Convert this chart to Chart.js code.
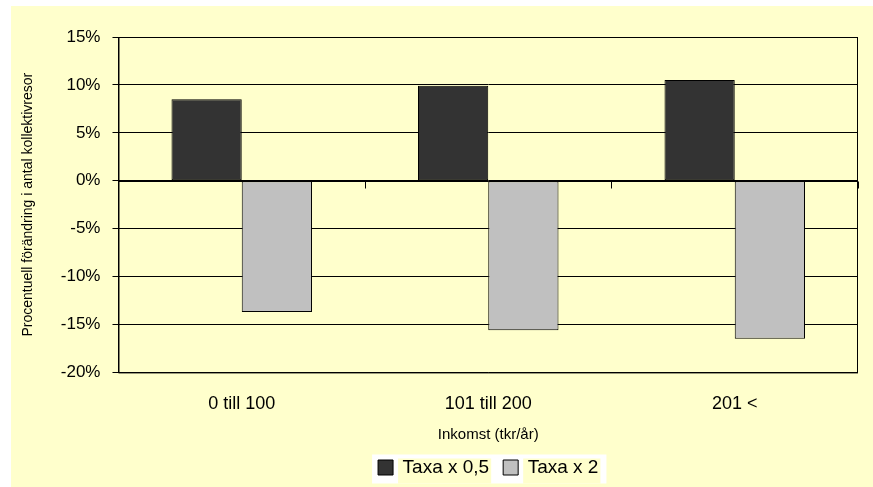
<!DOCTYPE html>
<html>
<head>
<meta charset="utf-8">
<script src="https://cdn.jsdelivr.net/npm/chart.js@4"></script>
<style>
  html, body { margin: 0; padding: 0; background: #fff; }
  #wrap { width: 873px; height: 487px; }
</style>
</head>
<body>
<div id="wrap"><canvas id="incomeChart" width="873" height="487"></canvas></div>
<script>
const categories = ['0 till 100', '101 till 200', '201 <'];
const halfFare = [8.5, 9.9, 10.5];        // Taxa x 0,5
const doubleFare = [-13.7, -15.6, -16.5]; // Taxa x 2
const yTicks = [15, 10, 5, 0, -5, -10, -15, -20];

const FONT = 'Arial, "Liberation Sans", sans-serif';
const YELLOW = '#FFFFCC';

// center the legend under the plot area instead of the whole canvas
const legendShift = {
  id: 'legendShift',
  afterLayout(chart) {
    const lg = chart.legend, a = chart.chartArea;
    if (!lg) return;
    const dx = (a.left + a.right) / 2 - (lg.left + lg.right) / 2;
    lg.left += dx;
    lg.right += dx;
    (lg.legendHitBoxes || []).forEach(b => { b.left += dx; });
  }
};

// yellow chart background with white margin at top/left, white-ish legend box
const bgPlugin = {
  id: 'bg',
  beforeDraw(chart) {
    const ctx = chart.ctx;
    ctx.save();
    ctx.fillStyle = '#ffffff';
    ctx.fillRect(0, 0, chart.width, chart.height);
    ctx.fillStyle = YELLOW;
    ctx.fillRect(11, 6, chart.width - 11, chart.height - 6);
    const lg = chart.legend;
    if (lg && lg.legendHitBoxes && lg.legendHitBoxes.length) {
      const boxes = lg.legendHitBoxes;
      const first = boxes[0], last = boxes[boxes.length - 1];
      const cy = first.top + first.height / 2;
      const x0 = first.left - 6, x1 = last.left + last.width + 8;
      ctx.fillStyle = '#ffffff';
      ctx.fillRect(x0, cy - 13, x1 - x0, 29);
      // Excel leaves the area behind the label text yellow
      ctx.fillStyle = YELLOW;
      boxes.forEach(b => {
        const tx = b.left + 15 + 5;
        ctx.fillRect(tx, cy - 9, b.left + b.width - tx + 2, 25);
      });
    }
    ctx.restore();
  }
};

// plot frame + tick marks on the zero line
const framePlugin = {
  id: 'frame',
  afterDatasetsDraw(chart) {
    const { ctx, chartArea: a, scales } = chart;
    ctx.save();
    ctx.strokeStyle = '#000';
    ctx.lineWidth = 1;
    ctx.strokeRect(a.left + 0.5, a.top + 0.5, a.right - a.left - 1, a.bottom - a.top);
    const y0 = Math.round(scales.y.getPixelForValue(0)) + 0.5;
    ctx.beginPath();
    ctx.moveTo(a.left, y0);
    ctx.lineTo(a.right, y0);
    for (let i = 0; i <= categories.length; i++) {
      const x = Math.round(scales.x.getPixelForValue(i - 0.5)) + 0.5;
      ctx.moveTo(x, y0);
      ctx.lineTo(x, y0 + 7);
    }
    ctx.stroke();
    ctx.restore();
  }
};

new Chart(document.getElementById('incomeChart'), {
  type: 'bar',
  data: {
    labels: categories,
    datasets: [
      {
        label: 'Taxa x 0,5',
        data: halfFare,
        backgroundColor: '#333333',
        borderColor: '#000000',
        borderWidth: 1,
        borderSkipped: false
      },
      {
        label: 'Taxa x 2',
        data: doubleFare,
        backgroundColor: '#C0C0C0',
        borderColor: '#000000',
        borderWidth: 1,
        borderSkipped: false
      }
    ]
  },
  options: {
    responsive: false,
    animation: false,
    devicePixelRatio: 1,
    categoryPercentage: 0.57,
    barPercentage: 1,
    layout: { padding: { left: 20, right: 15, top: 37, bottom: 0 } },
    plugins: {
      legend: {
        position: 'bottom',
        labels: {
          font: { family: FONT, size: 19 },
          color: '#000',
          boxWidth: 15,
          boxHeight: 15,
          padding: 14
        }
      },
      tooltip: { enabled: false }
    },
    scales: {
      x: {
        grid: { display: false },
        border: { display: false },
        ticks: { font: { family: FONT, size: 18 }, color: '#000', padding: 13 },
        title: {
          display: true,
          text: 'Inkomst (tkr/år)',
          font: { family: FONT, size: 15, lineHeight: 1 },
          color: '#000',
          padding: { top: -1, bottom: 2 }
        }
      },
      y: {
        min: -20,
        max: 15,
        afterBuildTicks(scale) {
          scale.ticks = yTicks.map(v => ({ value: v }));
        },
        grid: { color: '#000', lineWidth: 1, tickLength: 6 },
        border: { display: true, color: '#000' },
        ticks: {
          font: { family: FONT, size: 17 },
          color: '#000',
          padding: 12,
          callback: v => v + '%'
        },
        title: {
          display: true,
          text: 'Procentuell förändring i antal kollektivresor',
          font: { family: FONT, size: 14 },
          color: '#000',
          padding: { top: 0, bottom: 12 }
        }
      }
    }
  },
  plugins: [legendShift, bgPlugin, framePlugin]
});
</script>
</body>
</html>
